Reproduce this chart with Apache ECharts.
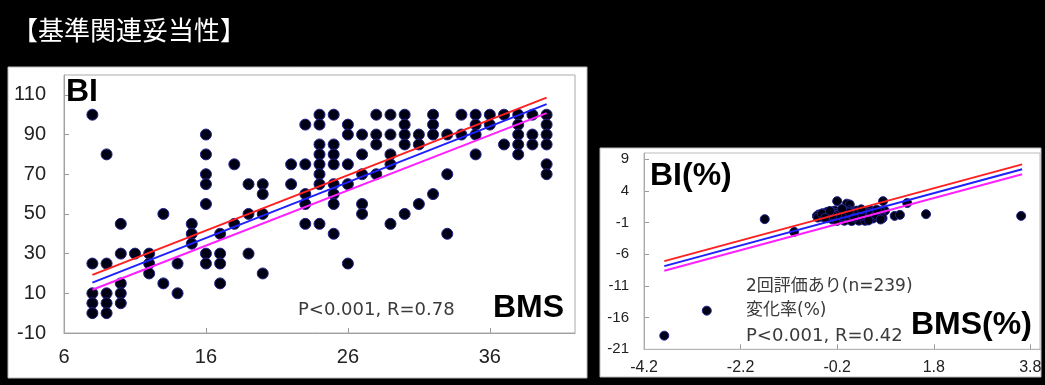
<!DOCTYPE html>
<html>
<head>
<meta charset="utf-8">
<title>基準関連妥当性</title>
<script src="https://cdn.jsdelivr.net/npm/echarts@6/dist/echarts.min.js"></script>
<style>
  html, body { margin: 0; padding: 0; background: #000; }
  #main { width: 1045px; height: 385px; }
</style>
</head>
<body>
<div id="main"></div>
<script>
// left chart: BMS score (x) -> BI values observed at that score
var bmsScore = [8, 9, 10, 11, 12, 13, 14, 15, 16, 17, 18, 19, 20, 22, 23, 24, 25, 26, 27, 28, 29, 30, 31, 32, 33, 34, 35, 36, 37, 38, 39, 40]
var biByScore = [
  [100, 25, 10, 5, 0],
  [80, 25, 10, 5, 0],
  [45, 30, 15, 10, 5],
  [30],
  [30, 25, 20],
  [50, 15],
  [25, 10],
  [45, 40, 35],
  [90, 80, 70, 65, 55, 30, 25],
  [40, 30, 25, 15],
  [75, 45],
  [65, 50, 30],
  [65, 60, 50, 20],
  [75, 65],
  [95, 75, 60, 55, 45],
  [100, 95, 85, 80, 75, 70, 65, 45],
  [100, 85, 80, 75, 65, 60, 55, 40],
  [95, 90, 75, 65, 25],
  [90, 80, 70, 55, 50],
  [100, 90, 85, 70],
  [100, 90, 80, 75, 45],
  [100, 95, 90, 85, 50],
  [90, 85, 55],
  [100, 95, 90, 60],
  [90, 70, 40],
  [100, 90],
  [100, 95, 90, 80],
  [100, 95],
  [100, 85],
  [100, 95, 90, 85, 80],
  [100, 90, 85],
  [100, 95, 90, 85, 75, 70]
]
// fitted lines (end points), left chart
var fitX = [8, 40]
var fitRed = [19.3, 108.6]
var fitBlue = [15.4, 105.3]
var fitPink = [11.8, 100.8]

// right chart: change rate BMS(%) vs BI(%)
var pctPoints = [
  [-3.78, -18.85], [-2.9, -14.9], [-1.7, -0.45], [-1.09, -2.45], [3.61, 0.07],
  [1.64, 0.34], [1.25, 2.1], [0.99, 0.07], [1.1, 0.23], [0.75, 2.4],
  [-0.2, 2.4], [0.0, 2.0], [0.06, 1.87], [0.79, 0.86],
  [-0.25, 0.92], [-0.1, 0.88], [0.05, 0.95], [0.2, 0.9], [0.36, 0.86], [0.5, 0.93],
  [-0.41, 0.7], [-0.3, 0.66], [-0.15, 0.72], [0.0, 0.68], [0.11, 0.74], [0.25, 0.7], [0.4, 0.65], [0.55, 0.72], [0.66, 0.69],
  [-0.5, 0.5], [-0.35, 0.47], [-0.2, 0.52], [-0.05, 0.5], [0.06, 0.45], [0.15, 0.55], [0.3, 0.48], [0.45, 0.52], [0.6, 0.46], [0.7, 0.5],
  [-0.58, 0.3], [-0.45, 0.28], [-0.31, 0.33], [-0.2, 0.27], [-0.1, 0.31], [0.0, 0.3], [0.1, 0.26], [0.2, 0.32], [0.3, 0.29], [0.4, 0.34], [0.5, 0.27], [0.62, 0.31], [0.72, 0.28],
  [-0.55, 0.1], [-0.42, 0.12], [-0.32, 0.08], [-0.22, 0.1], [-0.12, 0.13], [-0.02, 0.09], [0.08, 0.11], [0.18, 0.07], [0.28, 0.12], [0.38, 0.1], [0.48, 0.08], [0.58, 0.12], [0.68, 0.1],
  [-0.5, -0.1], [-0.38, -0.12], [-0.26, -0.08], [-0.16, -0.11], [-0.06, -0.09], [0.04, -0.12], [0.14, -0.1], [0.24, -0.07], [0.34, -0.11], [0.46, -0.1], [0.56, -0.13], [0.66, -0.08],
  [-0.4, -0.3], [-0.28, -0.32], [-0.18, -0.27], [-0.08, -0.3], [0.02, -0.33], [0.12, -0.29], [0.22, -0.31], [0.32, -0.28], [0.44, -0.3], [0.54, -0.34],
  [-0.3, -0.5], [-0.2, -0.52], [-0.1, -0.48], [0.0, -0.5], [0.1, -0.53], [0.2, -0.49], [0.3, -0.51], [0.42, -0.47],
  [-0.2, -0.72], [-0.05, -0.7], [0.1, -0.74], [0.25, -0.69], [0.38, -0.71],
  [0, 0], [0, 0], [0.1, 0.2], [-0.1, 0.0], [0.2, 0.4], [-0.2, 0.2], [0.05, 0.6], [0.3, 0.1], [-0.3, 0.2], [0.15, -0.2], [0.5, 0.4], [0.6, 0.2],
  [-0.62, 0.05], [-0.6, -0.2], [-0.52, 0.4], [-0.45, -0.25], [0.7, 0.8], [0.62, 1.05], [0.74, -0.3], [0.7, -0.5], [-0.35, 0.85], [0.3, 1.1], [0.45, -0.65], [-0.1, 1.15]
]
// fitted lines (end points), right chart
var fit2X = [-3.78, 3.63]
var fit2Red = [-7.07, 8.2]
var fit2Blue = [-7.86, 7.44]
var fit2Pink = [-8.6, 6.65]

var leftPoints = []
bmsScore.forEach(function(x, i) {
  biByScore[i].forEach(function(y) {
    leftPoints.push([x, y])
  })
})

function pairs(xs, ys) {
  return xs.map(function(x, i) { return [x, ys[i]] })
}

var latin = 'Liberation Sans, Arial, sans-serif'
var noteFont = 'DejaVu Sans, Noto Sans CJK JP, sans-serif'

function axisCommon(fontSize, margin) {
  return {
    type: 'value',
    splitLine: { show: false },
    axisLine: { show: true, onZero: false, lineStyle: { color: '#999', width: 1 } },
    axisTick: { show: true, inside: true, length: 5, lineStyle: { color: '#999' } },
    axisLabel: {
      color: '#222',
      fontSize: fontSize,
      fontFamily: latin,
      margin: margin,
      showMaxLabel: false
    }
  }
}

function fitLine(xi, yi, data, color) {
  return {
    type: 'line',
    xAxisIndex: xi,
    yAxisIndex: yi,
    data: data,
    showSymbol: false,
    silent: true,
    z: 5,
    lineStyle: { color: color, width: 2 }
  }
}

var chart = echarts.init(document.getElementById('main'))

chart.setOption({
  backgroundColor: '#000',
  animation: false,
  grid: [
    { left: 64, top: 75, width: 511, height: 258, show: true, borderColor: '#aaa', borderWidth: 1, z: 1 },
    { left: 644, top: 153, width: 396, height: 196.3, show: true, borderColor: '#bbb', borderWidth: 1, z: 1 }
  ],
  xAxis: [
    Object.assign(axisCommon(20, 14), { gridIndex: 0, min: 6, max: 42, interval: 10 }),
    Object.assign(axisCommon(16, 10), { gridIndex: 1, min: -4.2, max: 4.0, interval: 2 })
  ],
  yAxis: [
    Object.assign(axisCommon(20, 18), { gridIndex: 0, min: -10, max: 120, interval: 20 }),
    Object.assign(axisCommon(15, 15), { gridIndex: 1, min: -21, max: 10, interval: 5 })
  ],
  graphic: [
    {
      type: 'text', left: 12, top: 17, z: 10,
      style: { text: '【基準関連妥当性】', fill: '#fff', fontSize: 26, fontFamily: 'Noto Sans CJK JP' }
    },
    // white panels
    { type: 'rect', z: -5, shape: { x: 8, y: 67, width: 579, height: 311 }, style: { fill: '#fff', stroke: '#bbb' } },
    { type: 'rect', z: -5, shape: { x: 600, y: 148, width: 441, height: 229 }, style: { fill: '#fff', stroke: '#bbb' } },
    // left labels
    { type: 'text', x: 66, y: 92, z: 10, style: { text: 'BI', fill: '#000', fontSize: 32, fontWeight: 'bold', fontFamily: latin, verticalAlign: 'middle' } },
    { type: 'text', x: 493, y: 308, z: 10, style: { text: 'BMS', fill: '#000', fontSize: 32, fontWeight: 'bold', fontFamily: latin, verticalAlign: 'middle' } },
    { type: 'text', x: 298, y: 310, z: 10, style: { text: 'P<0.001, R=0.78', fill: '#3a3a3a', fontSize: 18, fontFamily: noteFont, verticalAlign: 'middle' } },
    // right labels
    { type: 'text', x: 650, y: 176, z: 10, style: { text: 'BI(%)', fill: '#000', fontSize: 32, fontWeight: 'bold', fontFamily: latin, verticalAlign: 'middle' } },
    { type: 'text', x: 911, y: 325, z: 10, style: { text: 'BMS(%)', fill: '#000', fontSize: 32, fontWeight: 'bold', fontFamily: latin, verticalAlign: 'middle' } },
    { type: 'text', x: 746, y: 287, z: 10, style: { text: '2回評価あり(n=239)', fill: '#3a3a3a', fontSize: 17, fontFamily: noteFont, verticalAlign: 'middle' } },
    { type: 'text', x: 746, y: 311, z: 10, style: { text: '変化率(%)', fill: '#3a3a3a', fontSize: 17, fontFamily: noteFont, verticalAlign: 'middle' } },
    { type: 'text', x: 746, y: 336, z: 10, style: { text: 'P<0.001, R=0.42', fill: '#3a3a3a', fontSize: 18, fontFamily: noteFont, verticalAlign: 'middle' } }
  ],
  series: [
    {
      type: 'scatter',
      xAxisIndex: 0,
      yAxisIndex: 0,
      data: leftPoints,
      symbolSize: 11,
      itemStyle: { color: '#000014', borderColor: '#22228a', borderWidth: 1, opacity: 1 }
    },
    fitLine(0, 0, pairs(fitX, fitRed), '#ff2020'),
    fitLine(0, 0, pairs(fitX, fitBlue), '#2020ff'),
    fitLine(0, 0, pairs(fitX, fitPink), '#ff20ff'),
    {
      type: 'scatter',
      xAxisIndex: 1,
      yAxisIndex: 1,
      data: pctPoints,
      symbolSize: 9,
      itemStyle: { color: '#000014', borderColor: '#22228a', borderWidth: 1, opacity: 1 }
    },
    fitLine(1, 1, pairs(fit2X, fit2Red), '#ff2020'),
    fitLine(1, 1, pairs(fit2X, fit2Blue), '#2020ff'),
    fitLine(1, 1, pairs(fit2X, fit2Pink), '#ff20ff')
  ]
})
</script>
</body>
</html>
